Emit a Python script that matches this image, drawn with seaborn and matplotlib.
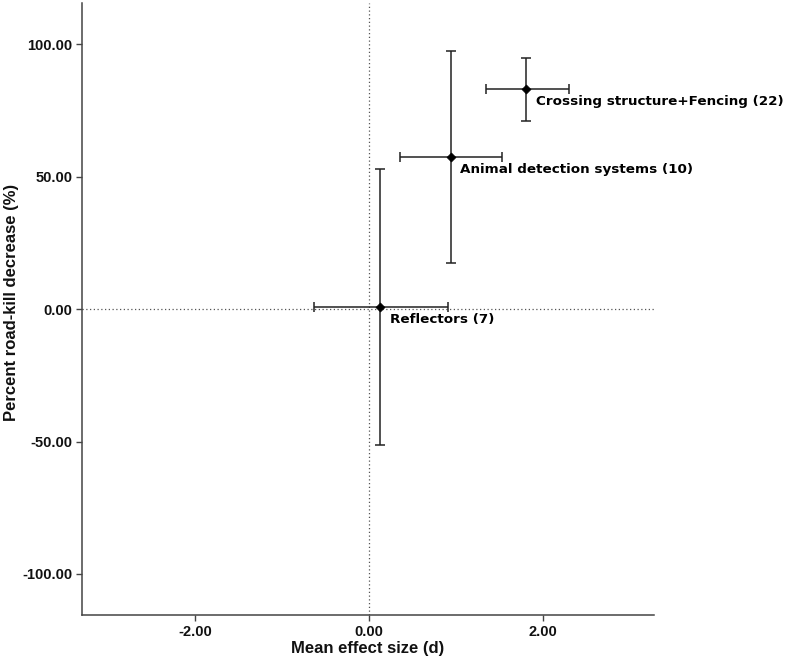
import numpy as np
import pandas as pd
import matplotlib
matplotlib.use("Agg")
import matplotlib.pyplot as plt
import seaborn as sns

# Mean effect size (d) vs percent road-kill decrease, with error bars
groups = ["Reflectors (7)", "Animal detection systems (10)", "Crossing structure+Fencing (22)"]
effect = [0.13, 0.94, 1.81]
effect_lo = [-0.63, 0.36, 1.35]
effect_hi = [0.91, 1.53, 2.30]
decrease = [0.9, 57.5, 83.3]
decrease_lo = [-51.4, 17.6, 70.9]
decrease_hi = [52.8, 97.5, 95.0]

df = pd.DataFrame({
    "group": groups,
    "effect": effect,
    "effect_lo": effect_lo,
    "effect_hi": effect_hi,
    "decrease": decrease,
    "decrease_lo": decrease_lo,
    "decrease_hi": decrease_hi,
})

sns.set_style("ticks")
plt.rcParams["font.family"] = ["Liberation Sans", "DejaVu Sans"]

fig = plt.figure(figsize=(7.89, 6.63), dpi=100)
ax = fig.add_axes([0.104, 0.0724, 0.725, 0.923])

# reference lines at zero
ax.axhline(0, color="#555555", lw=0.9, ls=(0, (1, 2)), zorder=1)
ax.axvline(0, color="#555555", lw=0.9, ls=(0, (1, 2)), zorder=1)

xerr = np.array([df["effect"] - df["effect_lo"], df["effect_hi"] - df["effect"]])
yerr = np.array([df["decrease"] - df["decrease_lo"], df["decrease_hi"] - df["decrease"]])
ax.errorbar(df["effect"], df["decrease"], xerr=xerr, yerr=yerr, fmt="none",
            ecolor="#222222", elinewidth=1.1, capsize=3.3, capthick=1.1, zorder=2)

sns.scatterplot(data=df, x="effect", y="decrease", ax=ax, marker="D", s=22,
                color="black", edgecolor="black", zorder=3)

for _, r in df.iterrows():
    ax.annotate(r["group"], xy=(r["effect"], r["decrease"]), xytext=(7, -9),
                textcoords="offset points", ha="left", va="center",
                fontsize=9.7, fontweight="bold", family="DejaVu Sans", color="black")

ax.set_xlim(-3.3, 3.28)
ax.set_ylim(-115.5, 115.6)
ax.set_xticks([-2, 0, 2])
ax.set_yticks([-100, -50, 0, 50, 100])
ax.xaxis.set_major_formatter(matplotlib.ticker.FormatStrFormatter("%.2f"))
ax.yaxis.set_major_formatter(matplotlib.ticker.FormatStrFormatter("%.2f"))
ax.tick_params(axis="both", labelsize=10.5, length=4, width=1, color="#444444",
               labelcolor="#111111", pad=3)
for lab in ax.get_xticklabels() + ax.get_yticklabels():
    lab.set_fontweight("bold")

ax.set_xlabel("Mean effect size (d)", fontsize=12, fontweight="bold", labelpad=2, color="#111111")
ax.set_ylabel("Percent road-kill decrease (%)", fontsize=12, fontweight="bold", color="#111111")
ax.yaxis.set_label_coords(-0.11, 0.51)

sns.despine(ax=ax)
for s in ["left", "bottom"]:
    ax.spines[s].set_color("#444444")
    ax.spines[s].set_linewidth(1.1)

fig.savefig("out.png", dpi=100)
plt.close(fig)
